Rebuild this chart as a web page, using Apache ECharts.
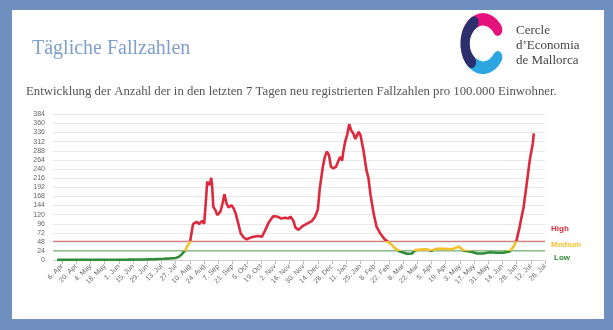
<!DOCTYPE html>
<html><head><meta charset="utf-8">
<script src="https://cdn.jsdelivr.net/npm/echarts@6/dist/echarts.min.js"></script>
<style>
html,body{margin:0;padding:0;background:#6f8fbf;width:613px;height:330px;overflow:hidden;}
#panel{position:absolute;left:12px;top:10px;width:592px;height:309px;background:#fff;}
#c{position:absolute;left:0;top:0;width:613px;height:330px;}
</style>
</head><body><div id="panel"></div><div id="c"></div>
<script>
// ---- data ----
const dates = ['2020-04-01','2020-04-16','2020-05-01','2020-05-21','2020-06-10','2020-06-25','2020-07-07','2020-07-15','2020-07-22','2020-07-27',
'2020-07-30','2020-08-02','2020-08-04','2020-08-06','2020-08-08','2020-08-10','2020-08-11','2020-08-13','2020-08-15','2020-08-17',
'2020-08-19','2020-08-20','2020-08-22','2020-08-24','2020-08-25','2020-08-26','2020-08-27','2020-08-29','2020-08-30','2020-08-31',
'2020-09-01','2020-09-02','2020-09-04','2020-09-06','2020-09-09','2020-09-11','2020-09-13','2020-09-15','2020-09-17','2020-09-20',
'2020-09-22','2020-09-24','2020-09-27','2020-09-29','2020-10-02','2020-10-05','2020-10-08','2020-10-12','2020-10-16','2020-10-20',
'2020-10-23','2020-10-27','2020-10-31','2020-11-04','2020-11-08','2020-11-12','2020-11-15','2020-11-17','2020-11-20','2020-11-22',
'2020-11-25','2020-11-29','2020-12-03','2020-12-08','2020-12-11','2020-12-14','2020-12-16','2020-12-19','2020-12-21','2020-12-23',
'2020-12-25','2020-12-27','2020-12-29','2021-01-01','2021-01-03','2021-01-05','2021-01-07','2021-01-08','2021-01-10','2021-01-12',
'2021-01-14','2021-01-16','2021-01-18','2021-01-20','2021-01-22','2021-01-23','2021-01-25','2021-01-28','2021-01-31','2021-02-02',
'2021-02-04','2021-02-07','2021-02-10','2021-02-14','2021-02-18','2021-02-20','2021-02-24','2021-02-28','2021-03-05','2021-03-12',
'2021-03-17','2021-03-20','2021-03-25','2021-03-31','2021-04-05','2021-04-10','2021-04-17','2021-04-25','2021-05-02','2021-05-07',
'2021-05-13','2021-05-20','2021-05-26','2021-06-02','2021-06-08','2021-06-15','2021-06-21','2021-06-25','2021-06-28','2021-07-01',
'2021-07-03','2021-07-05','2021-07-08','2021-07-11','2021-07-14','2021-07-15'];
const values = [1.2,1.3,1.4,1.5,1.8,2.2,3,4,5,6,
9,16,22,30,40,47,52,95,99,101,
95,92,104,96,130,167,207,198,205,217,
190,141,132,119,128,148,174,150,139,145,
137,124,93,71,60,55,59,62,64,62,
78,101,116,115,110,112,110,115,104,86,
80,90,96,103,113,132,189,246,272,286,
277,246,242,246,259,272,262,283,312,330,
358,341,334,319,330,338,330,290,237,216,
172,124,88,69,55,51,43,32,23,17,
18,27,28,29,25,30,30,29,36,25,
23,18,18,21,20,20,23,36,53,88,
115,141,202,264,308,334];
const tickDates = ['2020-04-06','2020-04-20','2020-05-04','2020-05-18','2020-06-01','2020-06-15','2020-06-29','2020-07-13','2020-07-27','2020-08-10','2020-08-24','2020-09-07','2020-09-21','2020-10-05','2020-10-19','2020-11-02','2020-11-16','2020-11-30','2020-12-14','2020-12-28','2021-01-11','2021-01-25','2021-02-08','2021-02-22','2021-03-08','2021-03-22','2021-04-05','2021-04-19','2021-05-03','2021-05-17','2021-05-31','2021-06-14','2021-06-28','2021-07-12','2021-07-26'];
const tickLabels = ['6. Apr','20. Apr','4. May','18. May','1. Jun','15. Jun','29. Jun','13. Jul','27. Jul','10. Aug','24. Aug','7. Sep','21. Sep','5. Oct','19. Oct','2. Nov','16. Nov','30. Nov','14. Dec','28. Dec','11. Jan','25. Jan','8. Feb','22. Feb','8. Mar','22. Mar','5. Apr','19. Apr','3. May','17. May','31. May','14. Jun','28. Jun','12. Jul','26. Jul'];
const axisStart = '2020-03-28';
const axisEnd = '2021-07-26';
const lowLimit = 25;
const highLimit = 50;
const yTicks = [0,24,48,72,96,120,144,168,192,216,240,264,288,312,336,360,384];

// ---- build ----
const categories = [];
{
  const s = new Date(axisStart + 'T00:00:00Z'), e = new Date(axisEnd + 'T00:00:00Z');
  for (let t = s.getTime(); t <= e.getTime(); t += 86400000) categories.push(new Date(t).toISOString().slice(0,10));
}
const labelMap = {};
tickDates.forEach((d,i)=>labelMap[d]=tickLabels[i]);
const isTick = (idx, val) => labelMap[val] !== undefined;

const RED = '#dc2a3c', YEL = '#f2c12e', GRN = '#2f8c38';
const chart = echarts.init(document.getElementById('c'), null, {renderer:'canvas'});
const sans = '"Liberation Sans Narrow","Liberation Sans",Arial,sans-serif';
const serif = '"Liberation Serif","DejaVu Serif",serif';

const logoR = 23, logoW = 12;
const arc = (a0, a1, color) => ({type:'arc', shape:{cx:0, cy:0, r:logoR, startAngle:a0*Math.PI/180, endAngle:a1*Math.PI/180, clockwise:true},
  style:{stroke:color, lineWidth:logoW, fill:null, lineCap:'round'}});

const limitSeries = (val, color) => ({type:'line', data:[[axisStart, val],[axisEnd, val]], showSymbol:false, silent:true, z:1,
  color:color, itemStyle:{color:color}, lineStyle:{color:color, width:1}});

chart.setOption({
  backgroundColor:'transparent',
  animation:false,
  grid:{left:53, right:68, top:114.3, bottom:69.7, containLabel:false, outerBoundsMode:'none'},
  xAxis:{type:'category', data:categories, boundaryGap:false,
    axisLine:{lineStyle:{color:'#cfcfcf'}},
    axisTick:{interval:isTick, length:4, lineStyle:{color:'#bfbfbf'}},
    axisLabel:{interval:isTick, rotate:45, fontSize:7, color:'#666', fontFamily:sans, margin:5,
      formatter:v=>labelMap[v]||''},
    splitLine:{show:false}},
  yAxis:{type:'value', min:yTicks[0], max:yTicks[yTicks.length-1], interval:24,
    axisLine:{show:false}, axisTick:{show:false},
    axisLabel:{fontSize:7, color:'#666', fontFamily:sans, margin:8},
    splitLine:{lineStyle:{color:'#e8e8e8', width:1}}},
  visualMap:{show:false, type:'piecewise', seriesIndex:[2], dimension:1,
    pieces:[{lt:lowLimit, color:GRN},{gte:lowLimit, lt:highLimit, color:YEL},{gte:highLimit, color:RED}]},
  series:[
    limitSeries(highLimit, '#cc5a5e'),
    limitSeries(lowLimit, '#5aa85c'),
    {type:'line', data:dates.map((d,i)=>[d, values[i]]), showSymbol:false, smooth:false,
      lineStyle:{width:2.6}, z:3}
  ],
  graphic:[
    {type:'text', left:32, top:39, style:{text:'Tägliche Fallzahlen', font:'20px '+serif, fill:'#7f9ecb'}},
    {type:'text', left:26, top:85, style:{text:'Entwicklung der Anzahl der in den letzten 7 Tagen neu registrierten Fallzahlen pro 100.000 Einwohner.', font:'12.8px '+serif, fill:'#555'}},
    {type:'group', x:483, y:43.5, scaleX:0.78, scaleY:1.05, children:[
      arc(35, 140, '#2ba6e0'),
      arc(205, 325, '#e5127d'),
      arc(130, 240, '#2b2f6e')
    ]},
    {type:'text', x:516, y:24, style:{text:'Cercle', font:'13px '+serif, fill:'#444'}},
    {type:'text', x:516, y:39, style:{text:'d\u2019Economia', font:'13px '+serif, fill:'#444'}},
    {type:'text', x:516, y:54, style:{text:'de Mallorca', font:'13px '+serif, fill:'#444'}},
    {type:'text', x:551, y:225, style:{text:'High', font:'bold 8px '+sans, fill:RED}},
    {type:'text', x:551, y:241, style:{text:'Medium', font:'bold 8px '+sans, fill:YEL}},
    {type:'text', x:554, y:254, style:{text:'Low', font:'bold 8px '+sans, fill:GRN}}
  ]
});
</script>
</body></html>
